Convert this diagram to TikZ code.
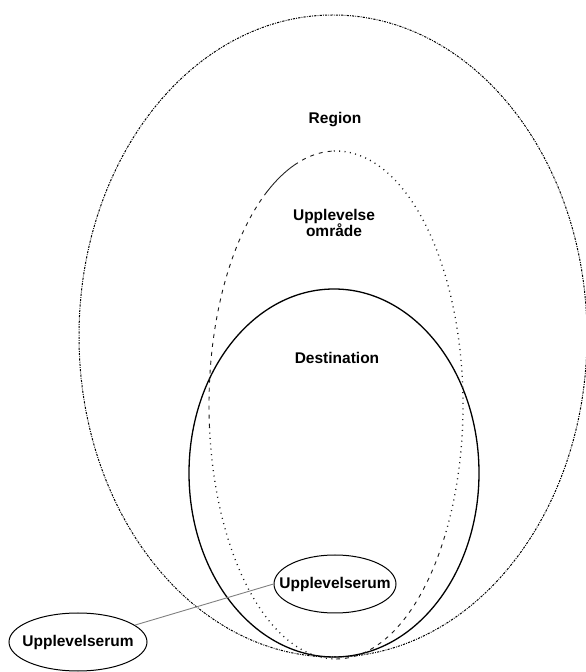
\documentclass[tikz,border=0pt]{standalone}
\usepackage{fontspec}
\setmainfont{Liberation Sans}
\usetikzlibrary{shapes.geometric}
\tikzset{area/.style={draw,ellipse,inner sep=0pt}}
\tikzset{regionline/.style={area,line width=1pt,draw=black,
                            dash pattern=on 2.2pt off 1.2pt on 0.8pt off 1.2pt}}
\tikzset{destline/.style={area,line width=1.3pt}}
\tikzset{solidline/.style={line width=0.9pt,black!85}}
\tikzset{dotline/.style={line width=1.3pt,dash pattern=on 1pt off 4.4pt,black!90}}
\tikzset{dashline/.style={line width=0.9pt,dash pattern=on 4pt off 5pt,black!90}}
\tikzset{areatext/.style={font=\fontsize{15.5}{19}\selectfont\bfseries,align=center}}
\tikzset{rum/.style={area,line width=1pt,minimum height=58pt,
                     label={[areatext]center:Upplevelserum}}}

\begin{document}
\begin{tikzpicture}[x=1pt,y=1pt]
    \useasboundingbox (0,0) rectangle (586,672);

    % region
    \node[regionline,minimum width=508pt,minimum height=642pt] (region) at (333,336) {};
    % destination
    \node[destline,minimum width=290pt,minimum height=368pt] (destination) at (334,199) {};

    % upplevelse omraade, drawn piece by piece
    \coordinate (eggc) at (336,267);
    \foreach \s/\e/\st in {92/109/dashline,109/123/solidline,123/185/dashline,
                           185/270/dotline,270/330/dashline,330/452/dotline}{%
        \draw[\st] ([shift={(\s:127pt and 254pt)}]eggc)
            arc[start angle=\s,end angle=\e,x radius=127pt,y radius=254pt];
    }

    % upplevelserum
    \node[rum,minimum width=122pt] (rum1) at (335,88) {};
    \node[rum,minimum width=138pt] (rum2) at (78,30) {};
    \draw[gray,line width=0.9pt] (rum2) -- (rum1.west);

    % Labels
    \node[areatext] (regiontext) at (335,552) {Region};
    \node[areatext,align=center] (omrtext) at (334,449) {Upplevelse\\[-3pt]område};
    \node[areatext] (desttext) at (337,314) {Destination};
\end{tikzpicture}
\end{document}
